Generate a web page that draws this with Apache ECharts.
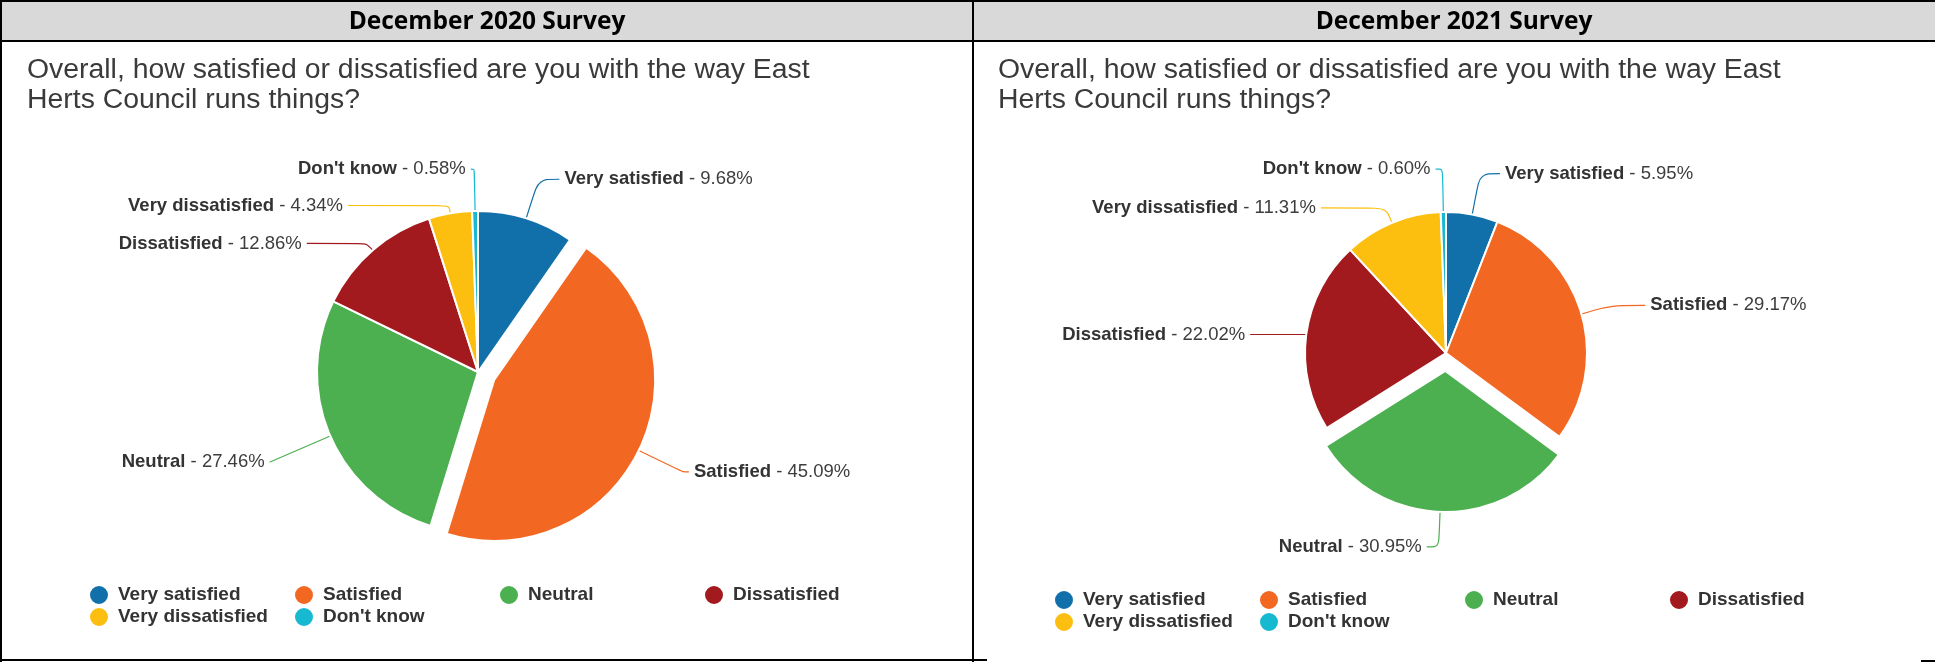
<!DOCTYPE html>
<html>
<head>
<meta charset="utf-8">
<script src="https://cdn.jsdelivr.net/npm/echarts@6/dist/echarts.min.js"></script>
<style>
html,body{margin:0;padding:0;background:#fff;}
#chart{width:1935px;height:662px;}
</style>
</head>
<body>
<div id="chart"></div>
<script>
// ---- data ----
const categories = ['Very satisfied', 'Satisfied', 'Neutral', 'Dissatisfied', 'Very dissatisfied', "Don't know"];
const values2020 = [9.68, 45.09, 27.46, 12.86, 4.34, 0.58];
const values2021 = [5.95, 29.17, 30.95, 22.02, 11.31, 0.60];
const headers = ['December 2020 Survey', 'December 2021 Survey'];
const question = 'Overall, how satisfied or dissatisfied are you with the way East\nHerts Council runs things?';
const explodedCategory2020 = 'Satisfied';
const explodedCategory2021 = 'Neutral';

// ---- style ----
const colors = ['#1170aa', '#f26722', '#4caf50', '#a31a1e', '#fcbf0f', '#17b9d1'];
const FONT = '"Liberation Sans", Arial, sans-serif';
// label connector lengths per slice [length, length2]
const lineLen2020 = [[41, 21], [49, 6], [65, 1], [9, 60], [8, 101], [42, 3.5]];
const lineLen2021 = [[41.5, 20], [31, 34], [35, 12], [1, 55], [16, 65], [43, 7]];

function buildData(values, lens, exploded) {
  return categories.map((name, i) => ({
    name: name,
    value: values[i],
    selected: name === exploded,
    itemStyle: { color: colors[i] },
    labelLine: { length: lens[i][0], length2: lens[i][1] }
  }));
}

function pieSeries(values, lens, exploded, center, radius) {
  return {
    type: 'pie',
    center: center,
    radius: radius,
    startAngle: 90,
    clockwise: true,
    selectedMode: 'single',
    selectedOffset: 18,
    avoidLabelOverlap: false,
    animation: false,
    itemStyle: { borderColor: '#ffffff', borderWidth: 2 },
    label: {
      show: true,
      position: 'outside',
      distanceToLabelLine: 5,
      formatter: p => '{n|' + p.name + '}{v| - ' + p.value.toFixed(2) + '%}',
      rich: {
        n: { fontFamily: FONT, fontSize: 18.5, fontWeight: 'bold', color: '#333333' },
        v: { fontFamily: FONT, fontSize: 18.5, fontWeight: 'normal', color: '#3d3d3d' }
      }
    },
    labelLine: { show: true, smooth: 0.3, lineStyle: { width: 1.2 } },
    emphasis: { disabled: true },
    data: buildData(values, lens, exploded)
  };
}

// legend laid out as a 4-column grid, one legend component per entry
function legendGrid(left, top) {
  return categories.map((name, i) => ({
    data: [name],
    left: left + (i % 4) * 205,
    top: top + Math.floor(i / 4) * 22,
    orient: 'horizontal',
    icon: 'circle',
    itemWidth: 28,
    itemHeight: 20,
    padding: 0,
    selectedMode: false,
    textStyle: { fontFamily: FONT, fontSize: 19, fontWeight: 'bold', color: '#333333' }
  }));
}

const chart = echarts.init(document.getElementById('chart'), null, { renderer: 'canvas' });

const lineStyle = { stroke: '#000000', lineWidth: 2 };
const headerFont = '"Open Sans", sans-serif';
const questionStyle = { fontFamily: FONT, fontSize: 28.4, fontWeight: 'normal', color: '#3a3a3a', lineHeight: 30 };
const option = {
  backgroundColor: '#ffffff',
  animation: false,
  title: [
    { text: question, left: 27, top: 55, padding: 0, textStyle: questionStyle },
    { text: question, left: 998, top: 55, padding: 0, textStyle: questionStyle }
  ],
  legend: legendGrid(88, 584).concat(legendGrid(1053, 589)),
  graphic: [
    { type: 'rect', shape: { x: 0, y: 1, width: 1935, height: 40 }, style: { fill: '#d9d9d9' }, silent: true },
    { type: 'text', x: 487, y: 22, style: { text: headers[0], fontFamily: headerFont, fontSize: 24.5, fontWeight: 'bold', fill: '#000000', align: 'center', verticalAlign: 'middle' } },
    { type: 'text', x: 1454, y: 22, style: { text: headers[1], fontFamily: headerFont, fontSize: 24.5, fontWeight: 'bold', fill: '#000000', align: 'center', verticalAlign: 'middle' } },
    { type: 'line', shape: { x1: 0, y1: 1, x2: 1935, y2: 1 }, style: lineStyle },
    { type: 'line', shape: { x1: 0, y1: 41, x2: 1935, y2: 41 }, style: lineStyle },
    { type: 'line', shape: { x1: 1, y1: 0, x2: 1, y2: 662 }, style: lineStyle },
    { type: 'line', shape: { x1: 973, y1: 0, x2: 973, y2: 662 }, style: lineStyle },
    { type: 'line', shape: { x1: 0, y1: 660, x2: 987, y2: 660 }, style: lineStyle },
    { type: 'line', shape: { x1: 1921, y1: 661, x2: 1935, y2: 661 }, style: lineStyle }
  ],
  series: [
    pieSeries(values2020, lineLen2020, explodedCategory2020, [478, 372], 161),
    pieSeries(values2021, lineLen2021, explodedCategory2021, [1446, 353], 141)
  ]
};
chart.setOption(option);
</script>
</body>
</html>
